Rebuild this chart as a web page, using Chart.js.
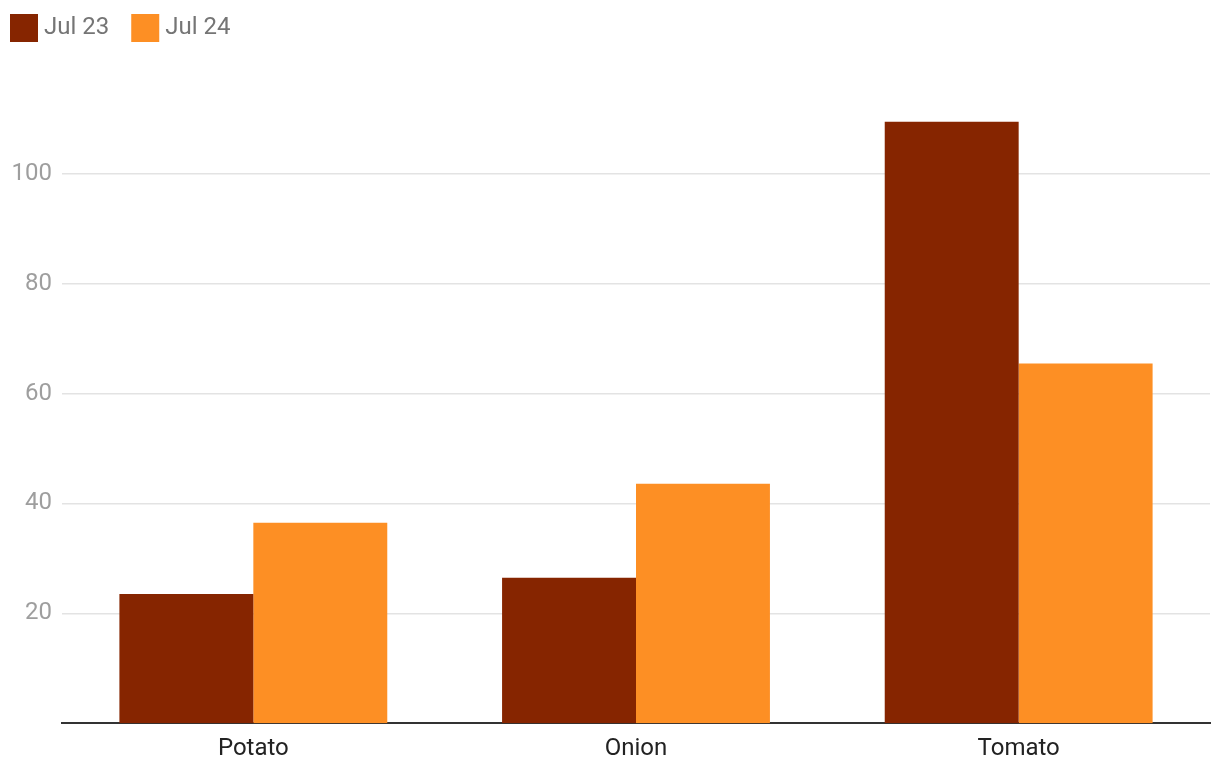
<!DOCTYPE html>
<html>
<head>
<meta charset="utf-8">
<script src="https://cdn.jsdelivr.net/npm/chart.js@4"></script>
<style>
  html, body { margin: 0; padding: 0; background: #fff; }
  #wrap { width: 1220px; height: 778px; }
</style>
</head>
<body>
<div id="wrap"><canvas id="chart"></canvas></div>
<script>
// data
const categories = ["Potato", "Onion", "Tomato"];
const jul23 = [23.5, 26.5, 109.5];
const jul24 = [36.5, 43.6, 65.5];
const yTicks = [20, 40, 60, 80, 100];

Chart.defaults.font.family = "Roboto, 'Noto Sans', sans-serif";

// simple top-left legend, drawn straight on the canvas
const topLegend = {
    id: "topLegend",
    afterDraw(chart) {
        const ctx = chart.ctx;
        ctx.save();
        ctx.font = "24px Roboto, 'Noto Sans', sans-serif";
        ctx.textBaseline = "middle";
        let x = 10;
        chart.data.datasets.forEach(ds => {
            ctx.fillStyle = ds.backgroundColor;
            ctx.fillRect(x, 14, 28, 28);
            ctx.fillStyle = "#757575";
            ctx.fillText(ds.label, x + 34, 28);
            x += 34 + ctx.measureText(ds.label).width + 22;
        });
        ctx.restore();
    }
};

new Chart(document.getElementById("chart"), {
    type: "bar",
    data: {
        labels: categories,
        datasets: [
            { label: "Jul 23", data: jul23, backgroundColor: "#862500" },
            { label: "Jul 24", data: jul24, backgroundColor: "#fd8f24" }
        ]
    },
    options: {
        responsive: true,
        maintainAspectRatio: false,
        animation: false,
        layout: { padding: { left: 0, right: 10, top: 64, bottom: 12 } },
        plugins: {
            legend: { display: false },
            tooltip: { enabled: false }
        },
        datasets: {
            bar: { categoryPercentage: 0.7, barPercentage: 1.0 }
        },
        scales: {
            x: {
                grid: { display: false },
                border: { color: "#333333", width: 2 },
                ticks: { color: "#222222", font: { size: 24 }, padding: 3 }
            },
            y: {
                min: 0,
                max: 120,
                afterBuildTicks: axis => { axis.ticks = yTicks.map(v => ({ value: v })); },
                afterFit: axis => { axis.width = 62; },
                grid: { color: "#e3e3e3", lineWidth: 1.5, drawTicks: false },
                border: { display: false },
                ticks: { color: "#9e9e9e", font: { size: 24 }, padding: 10 }
            }
        }
    },
    plugins: [topLegend]
});
</script>
</body>
</html>
